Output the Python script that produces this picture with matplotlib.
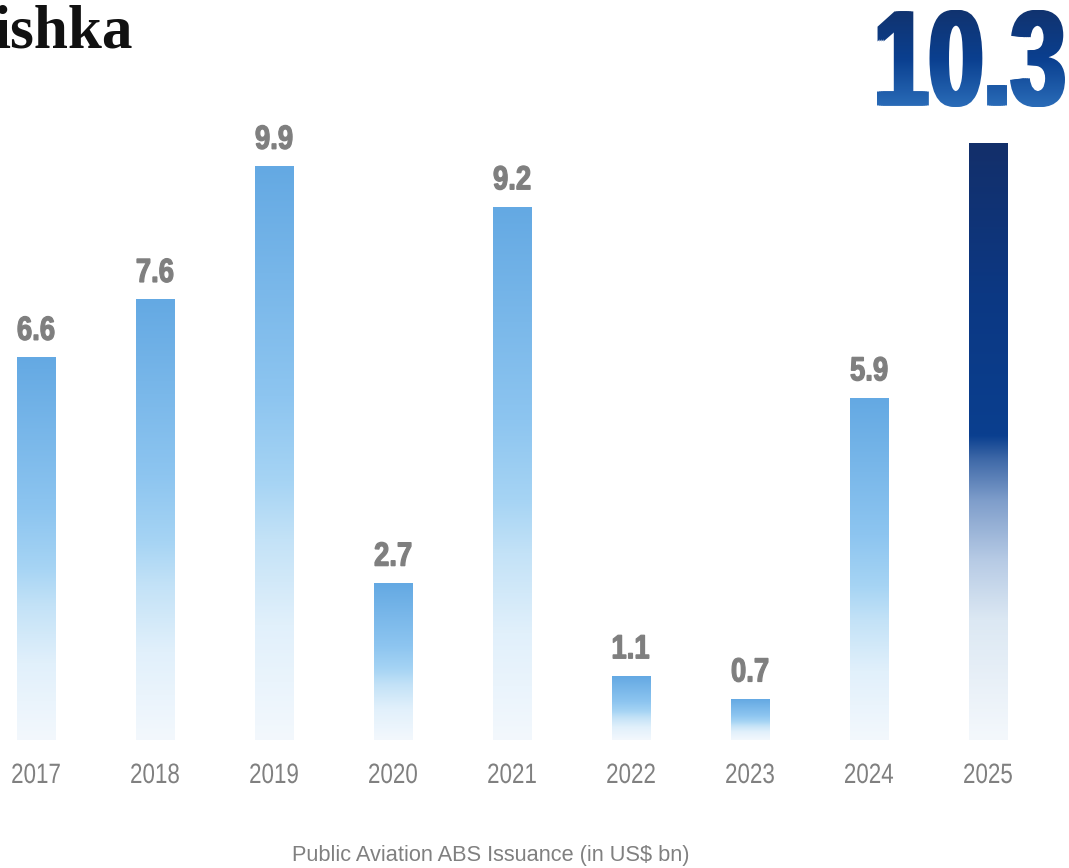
import numpy as np
import matplotlib.pyplot as plt
from matplotlib.colors import LinearSegmentedColormap
from matplotlib.textpath import TextPath
from matplotlib.font_manager import FontProperties
from matplotlib.patches import PathPatch
from matplotlib.transforms import Affine2D

years = ['2017', '2018', '2019', '2020', '2021', '2022', '2023', '2024', '2025']
issuance = [6.6, 7.6, 9.9, 2.7, 9.2, 1.1, 0.7, 5.9, 10.3]
caption = 'Public Aviation ABS Issuance (in US$ bn)'
logo = 'ishka'

W, H = 1069, 868
SANS = ['Liberation Sans', 'DejaVu Sans']
GREY = '#7f7f7f'

# bar fills, 0 = bottom of the bar, 1 = top
blue = LinearSegmentedColormap.from_list('blue', [
    (0.0, '#f3f8fd'), (0.2, '#e1f0fb'), (0.35, '#c3e2f7'),
    (0.45, '#a6d4f4'), (0.6, '#8dc5f0'), (1.0, '#64a9e3')])
navy = LinearSegmentedColormap.from_list('navy', [
    (0.0, '#f4f8fc'), (0.2, '#dce8f3'), (0.3, '#b7cbe5'), (0.4, '#7f9ecb'),
    (0.47, '#3f69a8'), (0.51, '#0a3f8f'), (0.75, '#0c3883'), (1.0, '#132f6a')])
headline_cmap = LinearSegmentedColormap.from_list('head', ['#2a6cb8', '#0a3f8f', '#11336f'])


def condensed(axp, s, x, y, size, squeeze, color, weight='normal', stroke=0.0):
    """Draw text centred on x with its baseline at y, squeezed horizontally."""
    tp = TextPath((0, 0), s, size=size, prop=FontProperties(family=SANS, weight=weight))
    ext = tp.get_extents()
    tr = (Affine2D().translate(-(ext.x0 + ext.x1) / 2, 0)
          .scale(squeeze, 1).translate(x, y))
    axp.add_patch(PathPatch(tr.transform_path(tp), facecolor=color,
                            edgecolor=color if stroke else 'none', lw=stroke))


fig = plt.figure(figsize=(W / 100, H / 100), dpi=100)

# main axes: zero line sits 128 px above the bottom edge
ax = fig.add_axes([0, 128 / H, 1, (H - 128) / H])
for s in ax.spines.values():
    s.set_visible(False)
ax.set_xticks([])
ax.set_yticks([])

bar_w = 0.32
grad = np.linspace(0, 1, 256).reshape(-1, 1)
for i, v in enumerate(issuance):
    cmap = navy if i == len(issuance) - 1 else blue
    ax.imshow(grad, cmap=cmap, origin='lower', aspect='auto',
              extent=[i - bar_w / 2, i + bar_w / 2, 0, v], interpolation='bicubic')
ax.set_xlim(-36 / 119, (W - 36) / 119)
ax.set_ylim(0, 740 / 57.9)

# overlay in pixel units for all the text
top = fig.add_axes([0, 0, 1, 1])
top.set_xlim(0, W)
top.set_ylim(0, H)
top.axis('off')

for i, (yr, v) in enumerate(zip(years, issuance)):
    bx, by = ax.transData.transform((i, v))
    zx, zy = ax.transData.transform((i, 0))
    if i < len(issuance) - 1:
        condensed(top, f'{v}', bx, by + 18, 33.5, 0.82, GREY, weight='bold', stroke=0.9)
    condensed(top, yr, zx, zy - 43, 28, 0.8, '#808080')

# headline figure with vertical gradient, thickened by stacking shifted copies
tp = TextPath((0, 0), f'{issuance[-1]}', size=100,
              prop=FontProperties(family=SANS, weight='bold'))
ext = tp.get_extents()
x0, x1, y0, y1 = 877, 1065, H - 107, H - 10
thick = 6
for dx in range(0, thick + 1, 2):
    tr = (Affine2D().translate(-ext.x0, -ext.y0)
          .scale((x1 - x0 - thick) / ext.width, (y1 - y0) / ext.height)
          .translate(x0 + dx, y0))
    patch = PathPatch(tr.transform_path(tp), facecolor='none', edgecolor='none')
    top.add_patch(patch)
    im = top.imshow(grad, cmap=headline_cmap, origin='lower', aspect='auto',
                    extent=[x0, x1, y0, y1])
    im.set_clip_path(patch)
top.set_xlim(0, W)
top.set_ylim(0, H)

fig.text(-0.006, 1 - 48 / H, logo, fontsize=44, fontweight='bold',
         family=['Liberation Serif', 'DejaVu Serif'], color='#111111', va='baseline')
fig.text(491 / W, 12 / H, caption, fontsize=15.7, family=SANS,
         color='#808080', ha='center', va='center')

fig.savefig('out.png', dpi=100, facecolor='white')
